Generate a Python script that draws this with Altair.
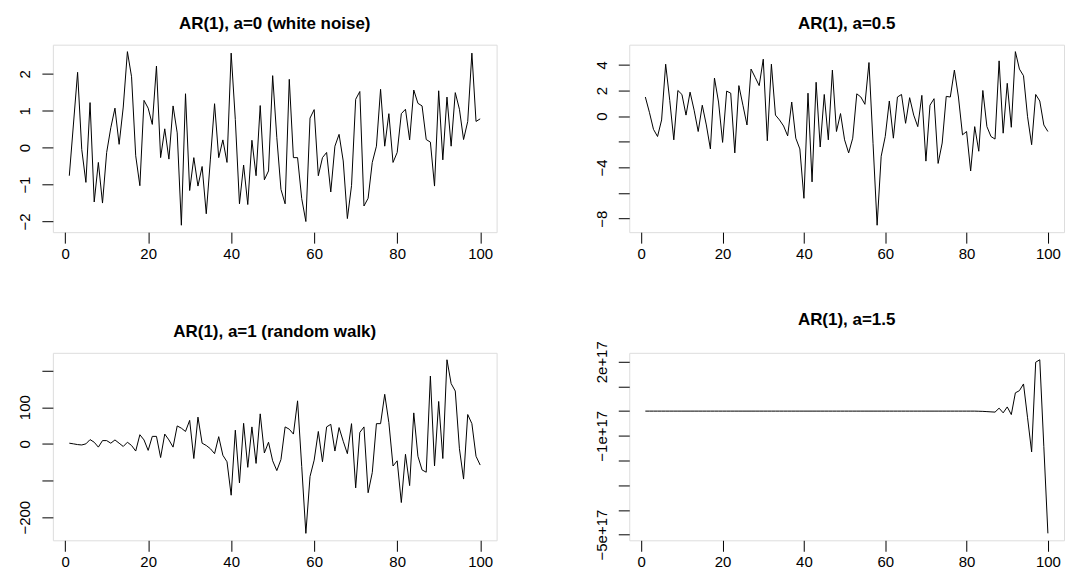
import altair as alt
import pandas as pd

# ---- data ----
t_index = list(range(1, 101))

a0_values = [
    -0.76, 0.64, 2.04, -0.05, -0.94, 1.22, -1.47, -0.40, -1.50, -0.13,
    0.54, 1.07, 0.09, 1.10, 2.60, 1.92, -0.22, -1.03, 1.28, 1.07,
    0.63, 2.21, -0.27, 0.51, -0.31, 1.13, 0.40, -2.10, 1.46, -1.16,
    -0.27, -1.04, -0.51, -1.79, -0.31, 1.19, -0.27, 0.21, -0.40, 2.56,
    0.76, -1.52, -0.47, -1.54, 0.20, -0.76, 1.14, -0.87, -0.63, 1.95,
    0.27, -1.13, -1.52, 1.85, -0.27, -0.27, -1.38, -2.00, 0.80, 1.03,
    -0.76, -0.27, -0.13, -1.20, 0.04, 0.36, -0.36, -1.92, -1.03, 1.31,
    1.52, -1.58, -1.37, -0.40, 0.04, 1.58, 0.04, 0.92, -0.40, -0.13,
    0.92, 1.04, 0.21, 1.56, 1.20, 1.13, 0.22, 0.15, -1.04, 1.54,
    -0.33, 1.37, 0.04, 1.49, 1.04, 0.22, 0.71, 2.56, 0.71, 0.78,
]

a05_values = [
    1.49, 0.30, -1.03, -1.59, -0.30, 4.05, 1.23, -1.85, 2.00, 1.69,
    0.08, 1.87, 0.46, -1.20, 0.85, -0.69, -2.56, 2.97, 1.10, -2.05,
    1.95, 1.79, -2.87, 2.38, 0.85, -0.69, 3.67, 3.03, 2.38, 4.44,
    -1.92, 4.05, 0.08, -0.30, -0.77, -1.54, 1.10, -1.72, -2.56, -6.41,
    1.79, -5.13, 2.64, -2.41, 1.69, -1.85, 3.59, -1.20, 0.20, -1.85,
    -2.87, -1.72, 1.74, 1.49, 0.92, 4.18, -2.15, -8.51, -3.13, -1.59,
    1.18, -1.72, 1.49, 1.69, -0.56, 1.44, 0.08, -0.82, 1.62, -3.51,
    0.85, 1.36, -3.69, -2.10, 1.54, 1.49, 3.59, 1.49, -1.46, -1.20,
    -4.28, -0.82, -2.74, 2.00, -0.82, -1.59, -1.79, 4.31, -1.33, 2.56,
    -0.87, 5.03, 3.67, 3.15, -0.05, -2.23, 1.69, 1.18, -0.69, -1.20,
]

a1_values = [
    1.8, 0.0, -2.0, -3.0, 0.0, 11.6, 4.4, -8.9, 8.9, 8.9,
    1.8, 10.7, 1.8, -7.1, 4.4, -4.4, -19.6, 24.9, 10.7, -17.8,
    20.4, 20.4, -37.3, 26.7, 10.7, -8.9, 48.9, 42.7, 33.8, 64.0,
    -40.0, 72.9, 1.8, -4.4, -13.3, -26.7, 19.6, -31.1, -48.9, -140.0,
    37.3, -106.7, 56.0, -64.0, 46.2, -53.3, 81.8, -24.9, 4.4, -46.2,
    -72.9, -42.7, 46.2, 40.0, 26.7, 117.3, -62.0, -244.0, -89.0, -44.4,
    33.8, -48.9, 46.2, 53.3, -19.6, 44.4, 7.1, -26.7, 55.1, -120.0,
    31.1, 46.2, -133.3, -78.2, 55.1, 55.1, 135.1, 57.8, -60.4, -46.2,
    -160.0, -28.4, -113.8, 84.4, -33.8, -71.1, -77.3, 184.9, -60.4, 115.6,
    -40.0, 229.3, 164.4, 144.0, -13.3, -96.0, 80.0, 55.1, -33.8, -57.8,
]

a15_values = [
    0.0, 0.0, 0.0, 0.0, 0.0, 0.0, 0.0, 0.0, 0.0, 0.0,
    0.0, 0.0, 0.0, 0.0, 0.0, 0.0, 0.0, 0.0, 0.0, 0.0,
    0.0, 0.0, 0.0, 0.0, 0.0, 0.0, 0.0, 0.0, 0.0, 0.0,
    0.0, 0.0, 0.0, 0.0, 0.0, 0.0, 0.0, 0.0, 0.0, 0.0,
    0.0, 0.0, 0.0, 0.0, 0.0, 0.0, 0.0, 0.0, 0.0, 0.0,
    0.0, 0.0, 0.0, 0.0, 0.0, 0.0, 0.0, 0.0, 0.0, 0.0,
    0.0, 0.0, 0.0, 0.0, 0.0, 0.0, 0.0, 0.0, 0.0, 0.0,
    0.0, 0.0, 0.0, 0.0, 0.0, 0.0, 0.0, 0.0, 0.0, 0.0,
    0.0, 0.0, -0.005e17, -0.01e17, -0.02e17, -0.03e17, -0.04e17, 0.12e17, -0.07e17, 0.17e17,
    -0.14e17, 0.74e17, 0.83e17, 1.10e17, -0.27e17, -1.65e17, 1.98e17, 2.08e17, -1.44e17, -4.95e17,
]

titles = [
    "AR(1), a=0 (white noise)",
    "AR(1), a=0.5",
    "AR(1), a=1 (random walk)",
    "AR(1), a=1.5",
]

x_ticks = [0, 20, 40, 60, 80, 100]
y_ticks_a0 = [-2, -1, 0, 1, 2]
y_ticks_a05 = [-8, -6, -4, -2, 0, 2, 4]
y_ticks_a1 = [-200, -100, 0, 100, 200]
y_ticks_a15 = [-5e17, -4e17, -3e17, -2e17, -1e17, 0.0, 1e17, 2e17]

FONT = "Liberation Sans"
MINUS = "replace(datum.label, '-', '\u2212')"


def panel(values, title, yticks, label_expr, width):
    df = pd.DataFrame({"t": t_index, "v": values})
    lo, hi = min(values), max(values)
    r = hi - lo
    ydom = [lo - 0.04 * r, hi + 0.04 * r]
    xr = t_index[-1] - t_index[0]
    xdom = [t_index[0] - 0.04 * xr, t_index[-1] + 0.04 * xr]
    return (
        alt.Chart(df)
        .mark_line(color="black", strokeWidth=1)
        .encode(
            x=alt.X(
                "t:Q",
                scale=alt.Scale(domain=xdom, nice=False, zero=False),
                axis=alt.Axis(
                    values=x_ticks, title=None, grid=False, domain=False,
                    tickSize=11, tickColor="black", tickWidth=1,
                    labelFontSize=15, labelFont=FONT, labelColor="black",
                    labelPadding=3, labelFlush=False, labelOverlap=False,
                ),
            ),
            y=alt.Y(
                "v:Q",
                scale=alt.Scale(domain=ydom, nice=False, zero=False),
                axis=alt.Axis(
                    values=yticks, title=None, grid=False, domain=False,
                    tickSize=11, tickColor="black", tickWidth=1,
                    labelFontSize=15, labelFont=FONT, labelColor="black",
                    labelAngle=270, labelAlign="center", labelBaseline="bottom",
                    labelPadding=9, labelFlush=False, labelOverlap=False,
                    labelExpr=label_expr, minExtent=44, maxExtent=44,
                ),
            ),
        )
        .properties(
            width=width,
            height=188,
            title=alt.TitleParams(
                text=title, fontSize=17, font=FONT, fontWeight="bold",
                color="black", anchor="middle", frame="group", offset=12,
            ),
        )
    )


p1 = panel(a0_values, titles[0], y_ticks_a0, MINUS, 445)
p2 = panel(
    a05_values, titles[1], y_ticks_a05,
    "(datum.value == -2 || datum.value == -6) ? '' : " + MINUS, 436,
)
p3 = panel(
    a1_values, titles[2], y_ticks_a1,
    "(datum.value == 200 || datum.value == -100) ? '' : " + MINUS, 445,
)
p4 = panel(
    a15_values, titles[3], y_ticks_a15,
    "datum.value == 2e17 ? '2e+17' : (datum.value == -1e17 ? '\u22121e+17' : "
    "(datum.value == -5e17 ? '\u22125e+17' : ''))",
    436,
)

chart = (
    alt.vconcat(
        alt.hconcat(p1, p2, spacing=87),
        alt.hconcat(p3, p4, spacing=87),
        spacing=48,
    )
    .properties(padding={"top": 5, "left": 0, "right": 0, "bottom": 0})
    .configure_view(stroke="black", strokeWidth=1)
    .configure(font=FONT, background="white")
)

chart.save("out.html", embed_options={"renderer": "svg", "actions": False})
